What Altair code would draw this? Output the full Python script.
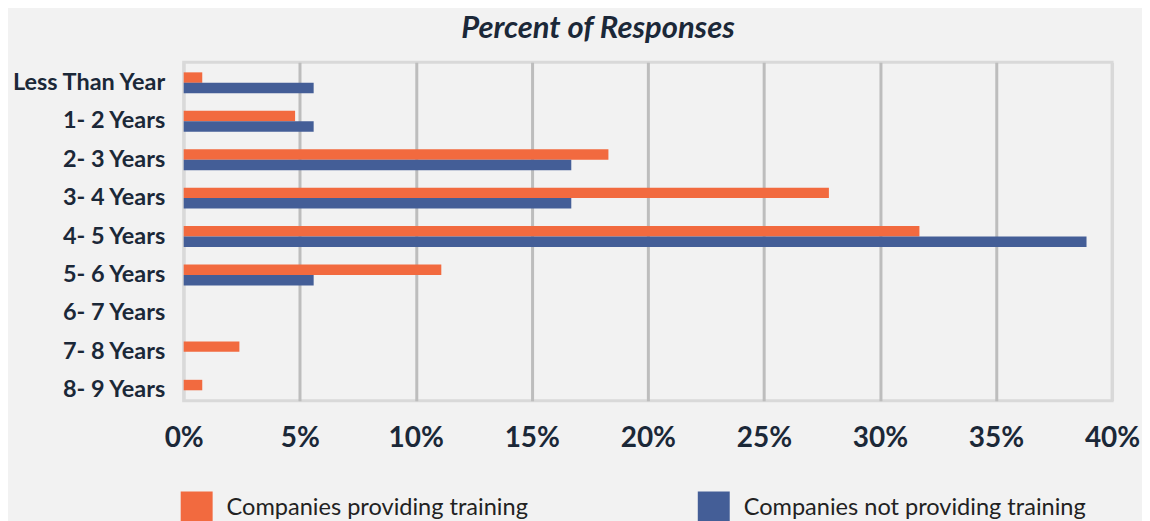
import altair as alt
import pandas as pd

categories = ["Less Than Year", "1- 2 Years", "2- 3 Years", "3- 4 Years", "4- 5 Years",
              "5- 6 Years", "6- 7 Years", "7- 8 Years", "8- 9 Years"]
series = ["Companies providing training", "Companies not providing training"]
providing = [0.8, 4.8, 18.3, 27.8, 31.7, 11.1, 0, 2.4, 0.8]
not_providing = [5.6, 5.6, 16.7, 16.7, 38.9, 5.6, 0, 0, 0]
x_ticks = [0, 5, 10, 15, 20, 25, 30, 35, 40]
colors = ["#F26A3F", "#445E97"]

rows = []
for c, a, b in zip(categories, providing, not_providing):
    rows.append({"cat": c, "series": series[0], "value": a})
    rows.append({"cat": c, "series": series[1], "value": b})
df = pd.DataFrame(rows)

TEXT = "#1B2838"
FONT = "Lato"

chart = alt.Chart(df).mark_bar().encode(
    x=alt.X("value:Q",
            scale=alt.Scale(domain=[0, 40], nice=False),
            axis=alt.Axis(values=x_ticks, labelExpr="datum.value + '%'", title=None,
                          domain=False, ticks=False, labelFontSize=28, labelFontWeight="bold",
                          labelColor=TEXT, labelFont=FONT, labelPadding=24,
                          grid=True, gridWidth=3,
                          gridColor={"condition": {"test": "datum.value === 0 || datum.value === 40",
                                                   "value": "#d9d9d9"},
                                     "value": "#bdbdbd"},
                          labelFlush=False)),
    y=alt.Y("cat:N", sort=categories,
            scale=alt.Scale(paddingInner=0.455, paddingOuter=0.13, align=1),
            axis=alt.Axis(title=None, domain=False, ticks=False, labelFontSize=23.5,
                          labelFontWeight="bold", labelColor=TEXT, labelFont=FONT,
                          labelPadding=19, labelLimit=300)),
    yOffset=alt.YOffset("series:N", sort=series, scale=alt.Scale(paddingInner=0, paddingOuter=0)),
    color=alt.Color("series:N", sort=series,
                    scale=alt.Scale(domain=series, range=colors),
                    legend=alt.Legend(title=None, orient="none", legendX=-3, legendY=430,
                                      direction="horizontal", columns=2, columnPadding=170,
                                      symbolType="square", symbolSize=1024, symbolStrokeWidth=0,
                                      symbolOpacity=1, labelOffset=14, labelFontSize=23.6,
                                      labelFont=FONT, labelColor="#222222", labelLimit=500,
                                      padding=0)),
).properties(
    width=930,
    height=339,
    title=alt.TitleParams("Percent of Responses", fontSize=31, fontWeight="bold", fontStyle="italic",
                          font=FONT, color=TEXT, anchor="middle", dx=-50, offset=17),
    background="#F2F2F2",
    padding={"left": 176, "top": 54, "right": 30, "bottom": 120},
    autosize=alt.AutoSizeParams(type="none"),
).configure_view(stroke="#d9d9d9", strokeWidth=3)

chart.save("out.html", embed_options={"renderer": "svg", "actions": False})
